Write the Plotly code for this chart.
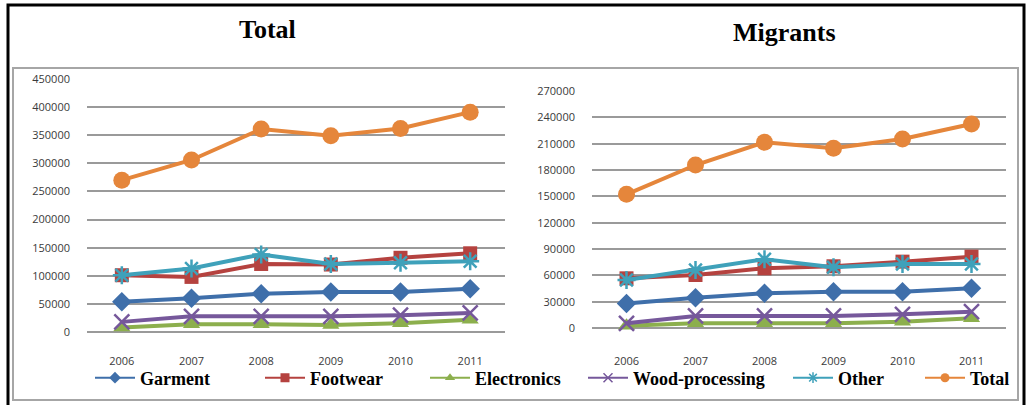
import plotly.graph_objects as go

W, H = 1027, 405

years = ["2006", "2007", "2008", "2009", "2010", "2011"]
series_names = ["Garment", "Footwear", "Electronics", "Wood-processing", "Other", "Total"]

# Workers in each sector, all workers
total_garment = [54000, 60000, 68000, 71000, 71000, 77000]
total_footwear = [101000, 98000, 121000, 120000, 132000, 140000]
total_electronics = [8000, 14000, 14000, 12500, 15500, 22000]
total_wood = [18000, 28000, 28000, 28000, 30000, 34000]
total_other = [101000, 113000, 138000, 121000, 123000, 126000]
total_total = [270000, 306000, 361000, 349000, 362000, 391000]

# Workers in each sector, migrants only
mig_garment = [28000, 34500, 39500, 41400, 41400, 45200]
mig_footwear = [56600, 60400, 68000, 70300, 75600, 81300]
mig_electronics = [2500, 5500, 5500, 5300, 7200, 11000]
mig_wood = [5300, 13700, 13700, 13700, 15600, 18600]
mig_other = [54700, 66100, 78300, 69200, 72900, 72900]
mig_total = [152300, 185700, 211600, 204700, 215300, 232400]

colors = ["#3F6FAA", "#B5423F", "#8CAF4D", "#76589B", "#3FA1BA", "#E5863B"]
symbols = ["diamond", "square", "triangle-up", "x-thin-open", "asterisk-open", "circle"]
sizes = [15, 14, 15, 15, 15, 17]
legend_sizes = [9, 9, 9, 9, 9, 9]
# left edge (px) of each legend entry along the bottom row
legend_left_px = [90, 260, 425, 583, 788, 920]

left_series = [total_garment, total_footwear, total_electronics, total_wood, total_other, total_total]
right_series = [mig_garment, mig_footwear, mig_electronics, mig_wood, mig_other, mig_total]


def px_x(p):
    return p / W


def px_y(p):
    return 1 - p / H


def marker_style(i, size, lw=2.5):
    m = dict(symbol=symbols[i], size=size, color=colors[i])
    if symbols[i].endswith("-open"):
        m["line"] = dict(color=colors[i], width=lw)
    else:
        m["line"] = dict(width=0)
    return m


fig = go.Figure()

for i, name in enumerate(series_names):
    fig.add_trace(go.Scatter(
        x=years, y=left_series[i], name=name, mode="lines+markers",
        line=dict(color=colors[i], width=4), marker=marker_style(i, sizes[i]),
        xaxis="x", yaxis="y", showlegend=False, cliponaxis=False))
    fig.add_trace(go.Scatter(
        x=years, y=right_series[i], name=name, mode="lines+markers",
        line=dict(color=colors[i], width=4), marker=marker_style(i, sizes[i]),
        xaxis="x2", yaxis="y2", showlegend=False, cliponaxis=False))

# legend entries drawn with thin sample lines, one legend box per entry
legend_font = dict(family="Liberation Serif", size=18, color="black", weight="bold")
legend_layouts = {}
for i, name in enumerate(series_names):
    key = "legend" if i == 0 else f"legend{i + 1}"
    fig.add_trace(go.Scatter(
        x=[None], y=[None], name=name, mode="lines+markers",
        line=dict(color=colors[i], width=2), marker=marker_style(i, legend_sizes[i], 1.5),
        xaxis="x", yaxis="y", showlegend=True, legend=key))
    legend_layouts[key] = dict(
        orientation="h", x=px_x(legend_left_px[i]), xanchor="left",
        y=px_y(378), yanchor="middle", font=legend_font,
        bgcolor="rgba(0,0,0,0)", itemwidth=40)

grid = "#9a9a9a"
tick_font = dict(family="Open Sans", size=11, color="#3a3a3a")
cat_range = [-0.5, len(years) - 0.5]

common_x = dict(type="category", showgrid=False, zeroline=False, showline=False,
                ticks="", tickfont=tick_font, fixedrange=True, range=cat_range)
common_y = dict(showgrid=True, gridcolor=grid, gridwidth=1.8, zeroline=True,
                zerolinecolor=grid, zerolinewidth=1.8, showline=False, ticks="",
                tickfont=tick_font, tickformat="d", ticklabelstandoff=16)

fig.update_layout(
    width=W, height=H,
    margin=dict(l=0, r=0, t=0, b=0, autoexpand=False),
    paper_bgcolor="white", plot_bgcolor="white",
    xaxis=dict(common_x, domain=[px_x(87), px_x(505)], anchor="y", ticklabelstandoff=21),
    yaxis=dict(common_y, domain=[px_y(332), px_y(79)], anchor="x", range=[0, 450000], dtick=50000),
    xaxis2=dict(common_x, domain=[px_x(592), px_x(1006)], anchor="y2", ticklabelstandoff=25),
    yaxis2=dict(common_y, domain=[px_y(328), px_y(91)], anchor="x2", range=[0, 270000], dtick=30000),
    showlegend=True,
    annotations=[
        dict(text="<b>Total</b>", x=px_x(267), y=px_y(29), xref="paper", yref="paper",
             showarrow=False, xanchor="center", yanchor="middle",
             font=dict(family="Liberation Serif", size=26, color="black")),
        dict(text="<b>Migrants</b>", x=px_x(784), y=px_y(32), xref="paper", yref="paper",
             showarrow=False, xanchor="center", yanchor="middle",
             font=dict(family="Liberation Serif", size=26, color="black")),
    ],
    shapes=[
        # outer black frame
        dict(type="rect", xref="paper", yref="paper", x0=px_x(8), x1=px_x(1024),
             y0=px_y(420), y1=px_y(5), line=dict(color="black", width=3)),
        # inner chart frame
        dict(type="rect", xref="paper", yref="paper", x0=px_x(13), x1=px_x(1018),
             y0=px_y(400), y1=px_y(68), line=dict(color="#a6a6a6", width=2)),
    ],
    **legend_layouts,
)

fig.write_html("out.html")
